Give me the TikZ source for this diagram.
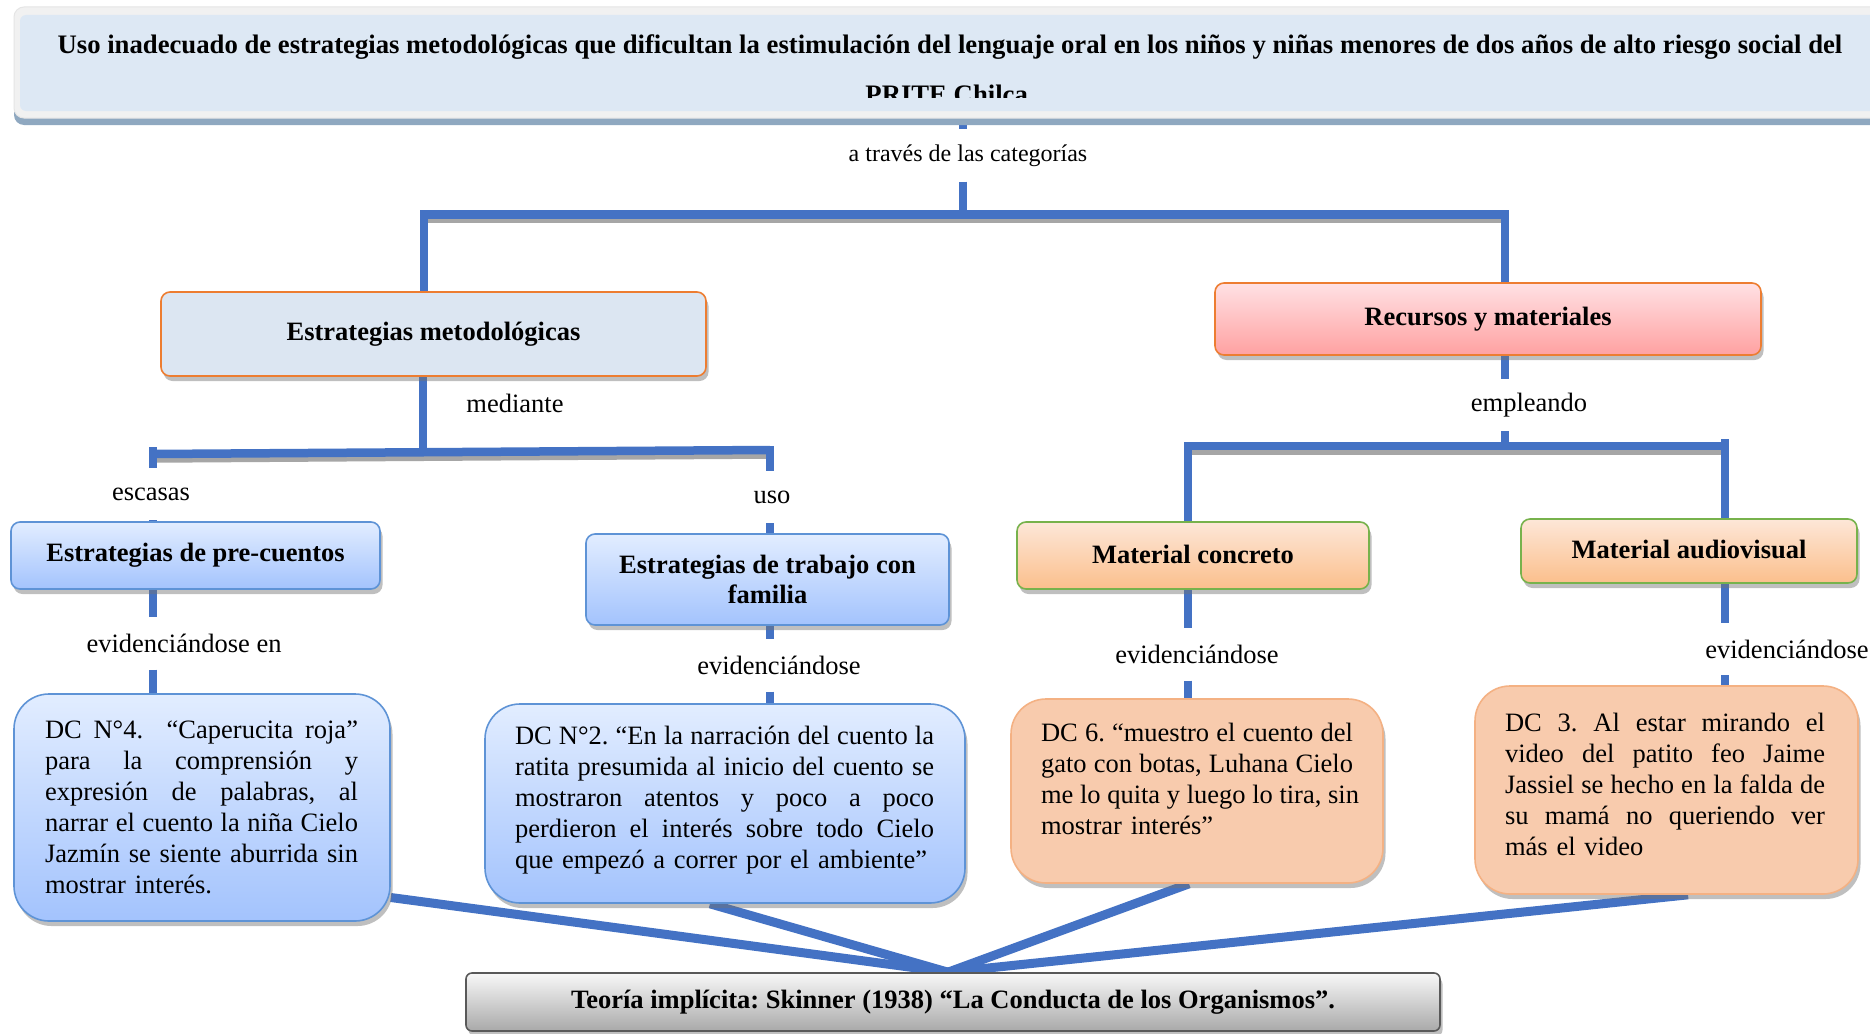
\documentclass[tikz,border=0pt]{standalone}
\usepackage{fontspec}
\setmainfont{Liberation Serif}
\usetikzlibrary{shadows,calc}
\definecolor{lineblue}{HTML}{4472C4}
\definecolor{orangeb}{HTML}{ED7D31}
\definecolor{emfill}{HTML}{DCE6F2}
\definecolor{rmtop}{HTML}{FFE1E4}
\definecolor{rmbot}{HTML}{FFA1A1}
\definecolor{bltop}{HTML}{E2EDFF}
\definecolor{blbot}{HTML}{A3C3FD}
\definecolor{blborder}{HTML}{5E93D6}
\definecolor{pchtop}{HTML}{FDE7D8}
\definecolor{pchbot}{HTML}{FBBF8C}
\definecolor{greenb}{HTML}{77B24C}
\definecolor{dcfill}{HTML}{F8CBAD}
\definecolor{dcborder}{HTML}{F4B183}
\definecolor{teotop}{HTML}{F8F8F8}
\definecolor{teobot}{HTML}{A9A9A9}
\definecolor{teoborder}{HTML}{595959}
\definecolor{ttlframe}{HTML}{F1F1F1}
\definecolor{ttlfill}{HTML}{DDE8F4}
\definecolor{ttlshadow}{HTML}{8FA8C0}
\pgfdeclarelayer{bg}
\pgfsetlayers{bg,main}
\frenchspacing
\newcommand\myjust[2]{\leavevmode\hbox to #1{\spaceskip=0.25em plus 1fil\xspaceskip=0.25em plus 1fil\relax #2}}
\begin{document}
\begin{tikzpicture}[x=1pt,y=-1pt,
  conn/.style={draw=lineblue,line width=8.5pt},
  barshadow/.style={preaction={draw=black!35,line width=8.5pt,transform canvas={yshift=-4.5pt}}},
  lbl/.style={font=\fontsize{26.5}{30}\selectfont,inner sep=0pt,minimum height=52pt},
  shad/.style={drop shadow={shadow xshift=2.5pt,shadow yshift=-5pt,opacity=0.45,fill=black!55}},
  hbox/.style={shad,rounded corners=9pt,line width=1.6pt,inner sep=0pt,align=center,font=\fontsize{26.5}{30}\selectfont\bfseries},
  bluebox/.style={hbox,draw=blborder,top color=bltop,bottom color=blbot},
  peachbox/.style={hbox,draw=greenb,top color=pchtop,bottom color=pchbot},
  dcbox/.style={shad,rounded corners=35pt,line width=1.6pt},
  dctext/.style={font=\fontsize{26.5}{31}\selectfont,align=left,inner sep=0pt},
  ttltext/.style={font=\fontsize{26.7}{44}\selectfont\bfseries,inner sep=0pt,anchor=base},
]
\useasboundingbox (0,0) rectangle (1870,1033);

% title
\node[fill=ttlframe,draw=black!10,line width=1pt,rounded corners=10pt,minimum width=1878pt,minimum height=111pt,inner sep=0pt,
  drop shadow={shadow xshift=0pt,shadow yshift=-7pt,opacity=1,fill=ttlshadow}] (titlebox) at (953,62.5) {};
\node[fill=ttlfill,rounded corners=6pt,minimum width=1870pt,minimum height=96pt,inner sep=0pt] (titlein) at (955,63) {};
\begin{scope}
\clip (0,0) rectangle (1870,97);
\node[ttltext] (title) at (950,54)
 {Uso inadecuado de estrategias metodológicas que dificultan la estimulación del lenguaje oral en los niños y niñas menores de dos años de alto riesgo social del};
\node[ttltext] (title2) at (950,103) {PRITE Chilca.};
\end{scope}

% main boxes
\node[hbox,draw=orangeb,fill=emfill,minimum width=545pt,minimum height=84pt] (em) at (433.5,334) {\raisebox{4pt}{Estrategias metodológicas}};
\node[hbox,draw=orangeb,top color=rmtop,bottom color=rmbot,minimum width=546pt,minimum height=72pt] (rm) at (1488,319) {\raisebox{4pt}{Recursos y materiales}};
\node[bluebox,minimum width=369pt,minimum height=67pt] (pc) at (195.5,555.5) {Estrategias de pre-cuentos};
\node[bluebox,minimum width=363pt,minimum height=91pt] (fam) at (767.5,579.5) {Estrategias de trabajo con\\familia};
\node[peachbox,minimum width=352pt,minimum height=67pt] (mc) at (1193,555.5) {\raisebox{2.5pt}{Material concreto}};
\node[peachbox,minimum width=336pt,minimum height=64pt] (ma) at (1689,551) {\raisebox{2.5pt}{Material audiovisual}};

% DC boxes
\node[dcbox,draw=blborder,top color=bltop,bottom color=blbot,minimum width=376pt,minimum height=227pt] (dc4) at (202,807.5) {};
\node[dcbox,draw=blborder,top color=bltop,bottom color=blbot,minimum width=480pt,minimum height=199pt] (dc2) at (725,803.5) {};
\node[dcbox,draw=dcborder,fill=dcfill,minimum width=372pt,minimum height=184pt] (dc6) at (1197,791) {};
\node[dcbox,draw=dcborder,fill=dcfill,minimum width=383pt,minimum height=208pt] (dc3) at (1666.5,790) {};

\node[dctext,text width=313pt] (dc4t) at (201.5,807) {%
\myjust{313pt}{DC N°4.\ \ “Caperucita roja”}\\
\myjust{313pt}{para la comprensión y}\\
\myjust{313pt}{expresión de palabras, al}\\
\myjust{313pt}{narrar el cuento la niña Cielo}\\
\myjust{313pt}{Jazmín se siente aburrida sin}\\
mostrar interés.};
\node[dctext,text width=419pt] (dc2t) at (724.5,800.5) {%
\myjust{419pt}{DC N°2. “En la narración del cuento la}\\
\myjust{419pt}{ratita presumida al inicio del cuento se}\\
\myjust{419pt}{mostraron atentos y poco a poco}\\
\myjust{419pt}{perdieron el interés sobre todo Cielo}\\
que empezó a correr por el ambiente”};
\node[dctext,text width=312pt] (dc6t) at (1197,778.5) {%
\myjust{312pt}{DC 6. “muestro el cuento del}\\
\myjust{312pt}{gato con botas, Luhana Cielo}\\
\myjust{312pt}{me lo quita y luego lo tira, sin}\\
mostrar interés”};
\node[dctext,text width=320pt] (dc3t) at (1665,784.5) {%
\myjust{320pt}{DC 3. Al estar mirando el}\\
\myjust{320pt}{video del patito feo Jaime}\\
\myjust{320pt}{Jassiel se hecho en la falda de}\\
\myjust{320pt}{su mamá no queriendo ver}\\
más el video};

% theory box
\node[shad,rounded corners=6pt,draw=teoborder,line width=1.6pt,top color=teotop,bottom color=teobot,minimum width=974pt,minimum height=58pt,inner sep=0pt,
  font=\fontsize{26.5}{30}\selectfont\bfseries] (teo) at (953,1002) {Teoría implícita: Skinner (1938) “La Conducta de los Organismos”.};

% labels
\node[lbl,font=\fontsize{24}{28}\selectfont] (lab0) at (968,155.5) {a través de las categorías};
\node[lbl] (labMed) at (515,403) {mediante};
\node[lbl] (labEsc) at (151,494) {escasas};
\node[lbl] (labUso) at (772,497) {uso};
\node[lbl] (labA) at (184,643.5) {evidenciándose en};
\node[lbl] (labB) at (779,665.5) {evidenciándose};
\node[lbl] (labC) at (1529,405) {empleando};
\node[lbl] (labD) at (1197,654.5) {evidenciándose};
\node[lbl] (labE) at (1787,649) {evidenciándose};

% junction coordinates
\coordinate (b1L) at (424,214.5);
\coordinate (b1M) at (963,214.5);
\coordinate (b1R) at (1505,214.5);
\coordinate (b2M) at (423,452);
\coordinate (b2L) at (153,454);
\coordinate (b2R) at (770,450);
\coordinate (b2Lt) at (153,447);
\coordinate (b2Rt) at (770,446);
\coordinate (b3M) at (1505,446);
\coordinate (b3L) at (1188,446);
\coordinate (b3R) at (1725,446);
\coordinate (b3Rt) at (1725,439);
\coordinate (conv) at ($(teo.north)+(-5,0)$);

\begin{pgfonlayer}{bg}
\fill[white] (0,0) rectangle (1870,1033);
\draw[conn] (titlebox.south -| b1M) -- (lab0.north -| b1M);
\draw[conn] (lab0.south -| b1M) -- (b1M);
\draw[conn,barshadow] (em.north -| b1L) -- (b1L) -- (b1R) -- (rm.north -| b1R);
\draw[conn] (em.south -| b2M) -- (b2M);
\draw[conn,barshadow] (b2L) -- (b2R);
\draw[conn] (labEsc.north -| b2L) -- (b2Lt);
\draw[conn] (labUso.north -| b2R) -- (b2Rt);
\draw[conn] (labEsc.south -| b2L) -- (pc.north -| b2L);
\draw[conn] (labUso.south -| b2R) -- (fam.north -| b2R);
\draw[conn] (pc.south -| b2L) -- (labA.north -| b2L);
\draw[conn] (labA.south -| b2L) -- (dc4.north -| b2L);
\draw[conn] (fam.south -| b2R) -- (labB.north -| b2R);
\draw[conn] (labB.south -| b2R) -- (dc2.north -| b2R);
\draw[conn] (rm.south -| b1R) -- (labC.north -| b1R);
\draw[conn] (labC.south -| b3M) -- (b3M);
\draw[conn,barshadow] (mc.north -| b3L) -- (b3L) -- (b3R);
\draw[conn] (b3Rt) -- (ma.north -| b3R);
\draw[conn] (mc.south -| b3L) -- (labD.north -| b3L);
\draw[conn] (labD.south -| b3L) -- (dc6.north -| b3L);
\draw[conn] (ma.south -| b3R) -- (labE.north -| b3R);
\draw[conn] (labE.south -| b3R) -- (dc3.north -| b3R);
\draw[conn,line width=9pt] ($(dc4.east)+(0,90)$) -- (conv);
\draw[conn,line width=9pt] ($(dc2.south)+(-15,0)$) -- (conv);
\draw[conn,line width=9pt] ($(dc6.south)+(-8,0)$) -- (conv);
\draw[conn,line width=9pt] ($(dc3.south)+(21.5,0)$) -- (conv);
\end{pgfonlayer}
\end{tikzpicture}
\end{document}
